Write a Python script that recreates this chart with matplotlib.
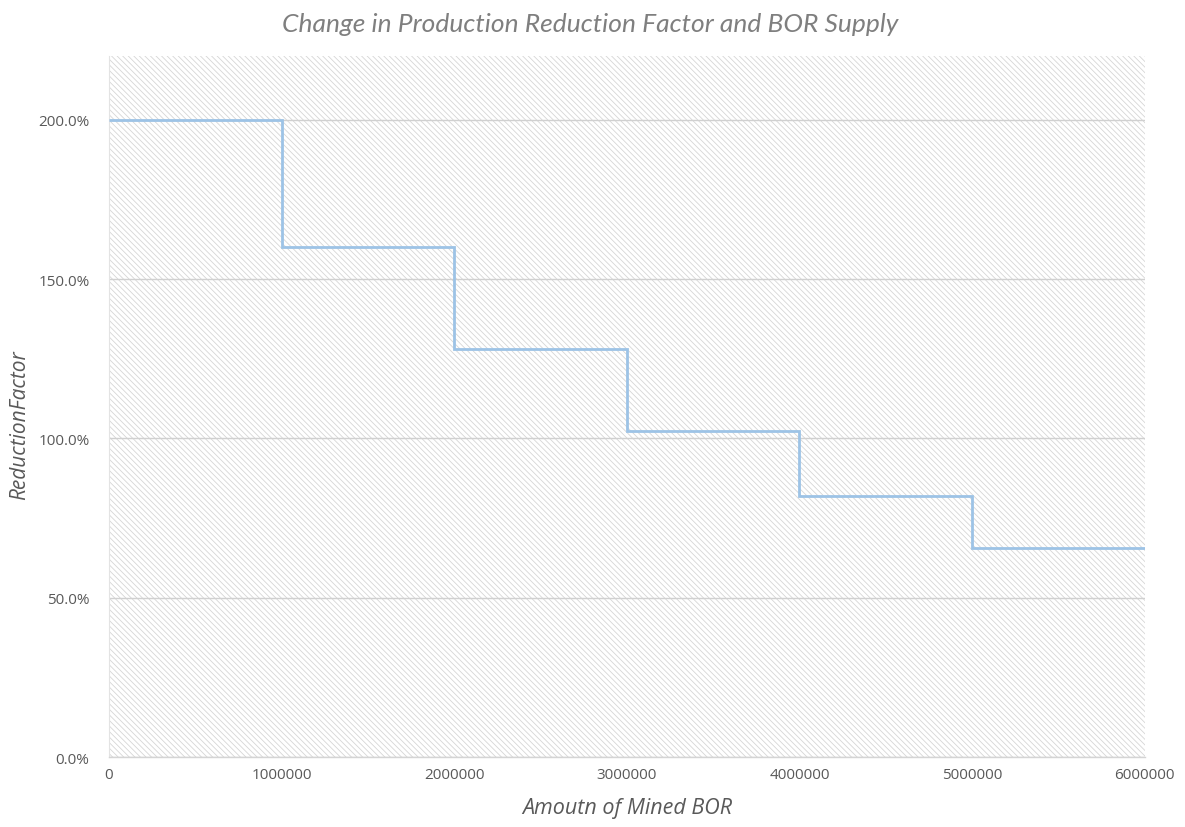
import matplotlib
matplotlib.use("Agg")
import matplotlib.pyplot as plt
from matplotlib.patches import Rectangle
from matplotlib.ticker import FuncFormatter

# Data
mined_bor_edges = [0, 1000000, 2000000, 3000000, 4000000, 5000000, 6000000]
reduction_factor = [2.00, 1.60, 1.28, 1.024, 0.819, 0.655]
x_ticks = [0, 1000000, 2000000, 3000000, 4000000, 5000000, 6000000]
y_ticks = [0.0, 0.5, 1.0, 1.5, 2.0]

plt.rcParams['font.family'] = ['Open Sans', 'DejaVu Sans']
plt.rcParams['hatch.linewidth'] = 0.6
plt.rcParams['hatch.color'] = '#d6d6d6'

fig = plt.figure(figsize=(11.85, 8.28), dpi=100)
ax = fig.add_axes([0.092, 0.0845, 0.874, 0.8465])

ax.set_xlim(0, 6000000)
ax.set_ylim(0, 2.2)

# hatched plot-area background
bg = Rectangle((0, 0), 1, 1, transform=ax.transAxes, facecolor='white',
               edgecolor='#d6d6d6', hatch='\\' * 6, linewidth=0, zorder=0)
ax.add_patch(bg)

ax.yaxis.grid(True, color='#d0d0d0', linewidth=1.0, zorder=1)

ax.stairs(reduction_factor, mined_bor_edges, color='#9dc3e6', linewidth=2.0,
          baseline=None, zorder=3)

ax.set_xticks(x_ticks)
ax.set_yticks(y_ticks)
ax.xaxis.set_major_formatter(FuncFormatter(lambda v, p: f"{int(round(v))}"))
ax.yaxis.set_major_formatter(FuncFormatter(lambda v, p: f"{v*100:.1f}%"))
ax.tick_params(axis='both', length=0, labelsize=11, labelcolor='#595959', pad=7)
ax.tick_params(axis='y', pad=14)

for s in ['top', 'right']:
    ax.spines[s].set_visible(False)
ax.spines['left'].set_color('#e3e3e3')
ax.spines['bottom'].set_color('#d4d4d4')
ax.spines['bottom'].set_linewidth(1.0)

ax.set_xlabel('Amoutn of Mined BOR', fontsize=15.5, style='italic', color='#595959', labelpad=11)
ax.set_ylabel('ReductionFactor', fontsize=15, style='italic', color='#595959')
ax.yaxis.set_label_coords(-0.076, 0.475)
fig.text(0.498, 0.984, 'Change in Production Reduction Factor and BOR Supply',
         ha='center', va='top', fontsize=19, style='italic', color='#7f7f7f',
         family=['Lato', 'DejaVu Sans'], fontweight='normal')

fig.savefig('out.png', dpi=100)
